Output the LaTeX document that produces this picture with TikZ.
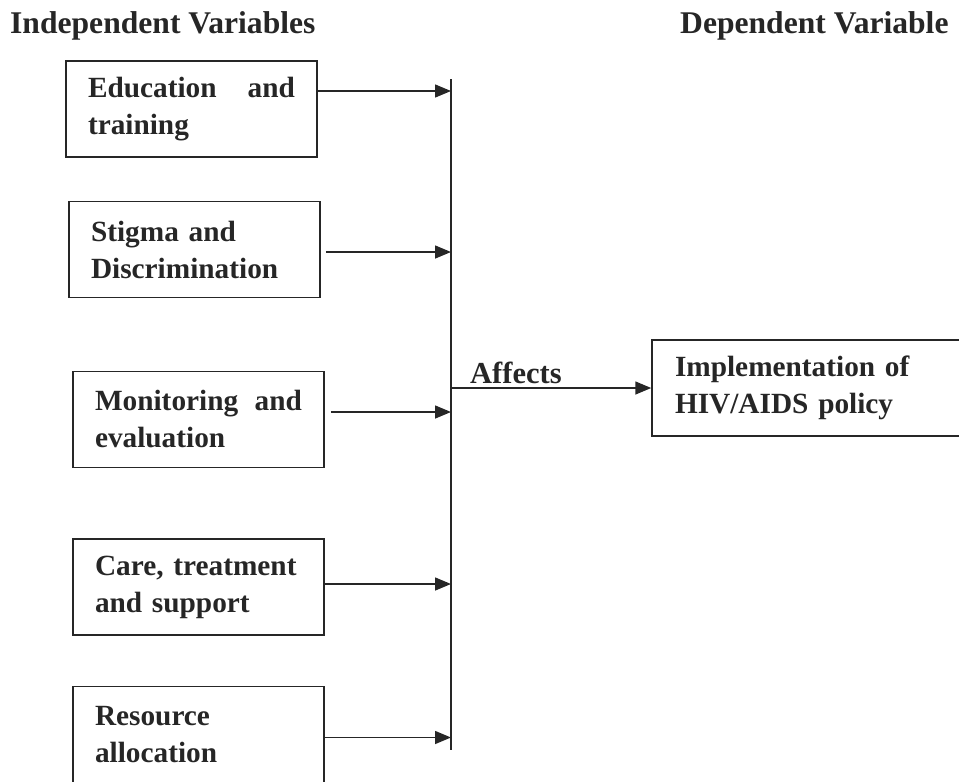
\documentclass[tikz,border=0pt]{standalone}
\usepackage{fontspec}
\setmainfont{Liberation Serif}
\usetikzlibrary{arrows.meta}

\begin{document}
\begin{tikzpicture}[
  x=1pt, y=-1pt,
  text=black!85,
  varbox/.style={draw=black!85, line width=1.5pt, minimum width=251pt, minimum height=96pt,
    inner xsep=22pt, text width=207pt, align=left, font=\fontsize{29.3}{37}\selectfont\bfseries},
  head/.style={anchor=base west, inner sep=0pt, font=\fontsize{31.6}{38}\selectfont\bfseries},
  arr/.style={-{Triangle[length=16pt, width=13pt]}, line width=1.5pt, draw=black!85},
]
  \useasboundingbox (0,0) rectangle (959,782);
  % headings
  \node[head] (indep) at (10,33) {Independent Variables};
  \node[head] (dep) at (680,33) {Dependent Variable};
  % independent variables
  \node[varbox] (edu) at (191.5,109) {Education\hfill and\\training};
  \node[varbox] (stig) at (194.5,249.5) {Stigma and\\Discrimination};
  \node[varbox] (mon) at (198.5,419.5) {Monitoring\hfill and\\evaluation};
  \node[varbox] (care) at (198.5,587) {Care, treatment\\and support};
  \node[varbox] (res) at (198.5,734.5) {Resource\\allocation};
  % dependent variable
  \node[varbox, minimum width=320pt, text width=274pt, inner xsep=23pt] (impl) at (812,388)
    {Implementation of\\HIV/AIDS policy};
  % collecting line
  \coordinate (vtop) at (451,79);
  \coordinate (vbot) at (451,750);
  \draw[line width=1.5pt, draw=black!85] (vtop) -- (vbot);
  \draw[arr] ([yshift=18pt]edu.east) -- ([yshift=18pt]edu.east -| vtop);
  \draw[arr] ([xshift=5pt, yshift=-2.5pt]stig.east) -- ([yshift=-2.5pt]stig.east -| vtop);
  \draw[arr] ([xshift=6pt, yshift=7.5pt]mon.east) -- ([yshift=7.5pt]mon.east -| vtop);
  \draw[arr] ([yshift=3pt]care.east) -- ([yshift=3pt]care.east -| vtop);
  \draw[arr] ([yshift=-3pt]res.east) -- ([yshift=-3pt]res.east -| vtop);
  \draw[arr] (impl.west -| vtop) -- (impl.west);
  \node[head, font=\fontsize{30.5}{37}\selectfont\bfseries] (affects) at (470,383) {Affects};
\end{tikzpicture}
\end{document}
